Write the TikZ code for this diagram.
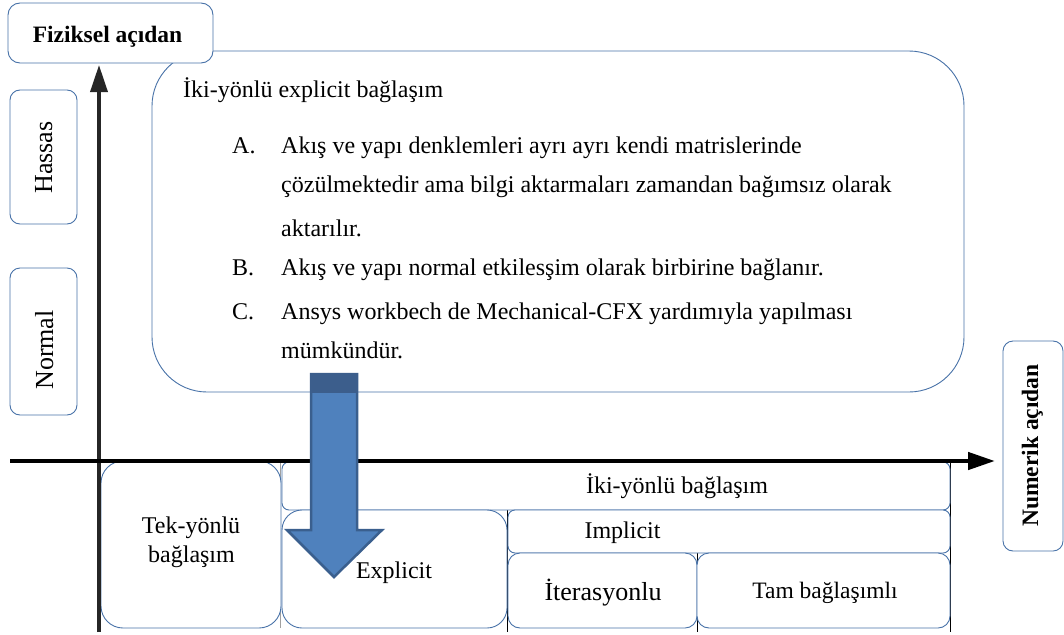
\documentclass[tikz,border=0pt]{standalone}
\usepackage{fontspec}
\setmainfont{Liberation Serif}
\usetikzlibrary{arrows.meta}
\definecolor{bordercol}{HTML}{4872A8}
\definecolor{arrowfill}{HTML}{4F81BD}
\definecolor{arrowline}{HTML}{3A5F8E}
\definecolor{arrowtop}{HTML}{3C5E8C}
\definecolor{gridgray}{HTML}{A0A0A0}
\definecolor{axisgray}{HTML}{262626}
\begin{document}
\begin{tikzpicture}[x=1pt,y=-1pt,
  box/.style={draw=bordercol, line width=0.9pt, fill=white, inner sep=0pt},
  txt/.style={inner sep=0pt, font=\fontsize{24}{28}\selectfont, anchor=base west},
  ctxt/.style={inner sep=0pt, font=\fontsize{24}{28}\selectfont, anchor=base},
  btxt/.style={inner sep=0pt, font=\fontsize{23.5}{28}\selectfont\bfseries, anchor=base},
  sidetxt/.style={inner sep=0pt, font=\fontsize{26}{30}\selectfont, anchor=base, rotate=90},
  gridline/.style={line width=0.7pt},
  axis/.style={line width=3.5pt, -{Triangle[length=27pt,width=17pt]}}
]
\useasboundingbox (0,0) rectangle (1064,634);

% table grid lines behind the boxes
\coordinate (g1a) at (280,461); \coordinate (g1b) at (280,628);
\coordinate (g2a) at (507,510); \coordinate (g2b) at (507,632);
\coordinate (g3a) at (697,553); \coordinate (g3b) at (697,632);
\coordinate (g4a) at (950,461); \coordinate (g4b) at (950,632);
\draw[gridline, gridgray] (g1a) -- (g1b);
\draw[gridline] (g2a) -- (g2b);
\draw[gridline] (g3a) -- (g3b);
\draw[gridline] (g4a) -- (g4b);

% main description box
\node[box, rounded corners=55pt, minimum width=812pt, minimum height=341pt] (main) at (558,221.5) {};

% label boxes
\node[box, rounded corners=12pt, minimum width=205pt, minimum height=60pt] (fiz) at (110.5,33) {};
\node[box, rounded corners=10pt, minimum width=67pt, minimum height=134pt] (hassasbox) at (43.5,157) {};
\node[box, rounded corners=10pt, minimum width=67pt, minimum height=147pt] (normalbox) at (43.5,341.5) {};
\node[box, rounded corners=10pt, minimum width=60pt, minimum height=210pt] (numbox) at (1033,446) {};

% bottom table boxes
\node[box, rounded corners=22pt, minimum width=180pt, minimum height=167pt] (tek) at (191,544.5) {};
\node[box, rounded corners=7pt, minimum width=668pt, minimum height=48pt] (iki) at (616,486) {};
\node[box, rounded corners=20pt, minimum width=225pt, minimum height=118pt] (expl) at (394.5,569) {};
\node[box, rounded corners=7pt, minimum width=442pt, minimum height=43pt] (impl) at (729,531.5) {};
\node[box, rounded corners=12pt, minimum width=189pt, minimum height=75pt] (iter) at (602.5,590.5) {};
\node[box, rounded corners=12pt, minimum width=253pt, minimum height=75pt] (tam) at (823.5,590.5) {};

% axes
\coordinate (vstart) at (99,632);
\coordinate (vend) at (99,65);
\coordinate (hstart) at (10,461);
\coordinate (hend) at (995,461);
\draw[axis, axisgray] (vstart) -- (vend);
\draw[axis, black, line width=4.5pt] (hstart) -- (hend);

% blue block arrow
\draw[fill=arrowfill, draw=arrowline, line width=2.5pt, line join=miter]
  (311,374) -- (357,374) -- (357,530) -- (382,530) -- (334,577) -- (287,530) -- (311,530) -- cycle;
\fill[arrowtop] (310,373) rectangle (358,393);

% texts
\node[btxt] (fiztxt) at (107.5,43) {Fiziksel açıdan};
\node[sidetxt] (hassastxt) at (52,157.5) {Hassas};
\node[sidetxt] (normaltxt) at (53,350) {Normal};
\node[btxt, rotate=90] (numtxt) at (1038,445.5) {Numerik açıdan};

\node[txt] (title) at (183,97) {İki-yönlü explicit bağlaşım};
\node[txt] (la) at (232,153) {A.};
\node[txt] (a1) at (281,153) {Akış ve yapı denklemleri ayrı ayrı kendi matrislerinde};
\node[txt] (a2) at (281,192) {çözülmektedir ama bilgi aktarmaları zamandan bağımsız olarak};
\node[txt] (a3) at (281,236) {aktarılır.};
\node[txt] (lb) at (232,275) {B.};
\node[txt] (b1) at (281,275) {Akış ve yapı normal etkilesşim olarak birbirine bağlanır.};
\node[txt] (lc) at (232,319) {C.};
\node[txt] (c1) at (281,319) {Ansys workbech de Mechanical-CFX yardımıyla yapılması};
\node[txt] (c2) at (281,358) {mümkündür.};

\node[ctxt] (tek1) at (191,533) {Tek-yönlü};
\node[ctxt] (tek2) at (191.5,562) {bağlaşım};
\node[ctxt] (ikitxt) at (677,493) {İki-yönlü bağlaşım};
\node[ctxt] (impltxt) at (622.5,538) {Implicit};
\node[ctxt] (expltxt) at (394,578) {Explicit};
\node[ctxt, font=\fontsize{26}{30}\selectfont] (itertxt) at (603,600) {İterasyonlu};
\node[ctxt, font=\fontsize{23.5}{28}\selectfont] (tamtxt) at (825,598) {Tam bağlaşımlı};
\end{tikzpicture}
\end{document}
